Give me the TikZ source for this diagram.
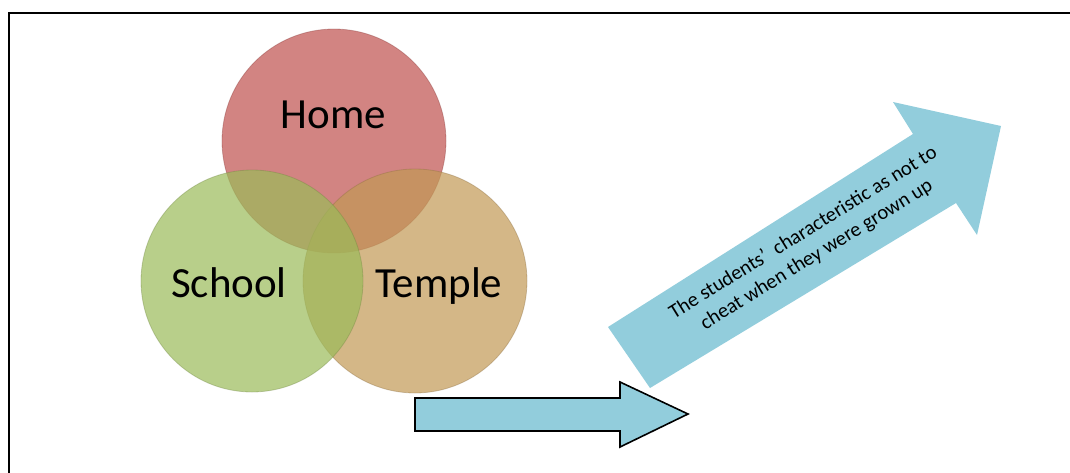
\documentclass[tikz,border=0pt]{standalone}
\usepackage{fontspec}
\setmainfont{Carlito}
\definecolor{homec}{RGB}{192,80,77}
\definecolor{schoolc}{RGB}{155,187,89}
\definecolor{templec}{RGB}{194,153,85}
\definecolor{arrowc}{RGB}{146,205,220}
\tikzset{
  venn/.style={circle, inner sep=0pt, fill opacity=0.7, draw opacity=0.35, line width=0.8pt},
  vennlbl/.style={anchor=base, inner sep=0pt, font=\fontsize{43}{50}\selectfont},
  flowarrow/.style={fill=arrowc, draw=black, line width=1.6pt, line join=miter},
  bigarrow/.style={fill=arrowc},
}
\begin{document}
\begin{tikzpicture}[x=1pt,y=-1pt]
\useasboundingbox (0,0) rectangle (1070,472);
\clip (0,0) rectangle (1070,472);
\fill[white] (0,0) rectangle (1070,472);
% frame
\draw[line width=2.2pt] (9,13) rectangle (1100,500);
% circles
\node[venn, fill=homec, draw=homec!70!black, minimum size=224pt] (home) at (334,141) {};
\node[venn, fill=templec, draw=templec!70!black, minimum size=224pt] (temple) at (415,281) {};
\node[venn, fill=schoolc, draw=schoolc!70!black, minimum size=222pt] (school) at (252,281) {};
% labels
\node[vennlbl] (homelbl) at (333.5,128) {Home};
\node[vennlbl] (schoollbl) at (229,297) {School};
\node[vennlbl] (templelbl) at (439,297) {Temple};
% straight arrow
\draw[flowarrow] (415,398) -- (620,398) -- (620,382) -- (688,414) -- (620,447) -- (620,431) -- (415,431) -- cycle;
% big rising arrow
\fill[bigarrow] (608,327) -- (913,134) -- (893,102) -- (1001,126) -- (977,235) -- (956,203) -- (650,388) -- cycle;
\node[rotate=31.7, align=center, inner sep=0pt, font=\fontsize{20.5}{25.5}\selectfont] (result) at (810,244)
  {The students’\ \ characteristic as not to\\cheat when they were grown up};
\end{tikzpicture}
\end{document}
